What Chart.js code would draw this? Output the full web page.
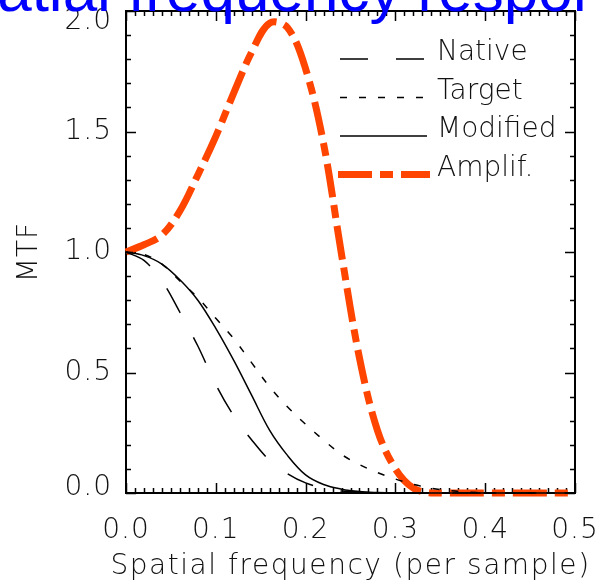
<!DOCTYPE html>
<html>
<head>
<meta charset="utf-8">
<title>Spatial frequency response</title>
<script src="https://cdn.jsdelivr.net/npm/chart.js@4.4.1/dist/chart.umd.min.js"></script>
<style>
  html, body { margin: 0; padding: 0; background: #fff; }
  canvas { display: block; }
</style>
</head>
<body>
<canvas id="mtfChart" width="597" height="585"></canvas>
<script>
const freq = [0.00, 0.02, 0.04, 0.06, 0.08, 0.10, 0.12, 0.14, 0.16, 0.18, 0.20, 0.22, 0.24,
              0.26, 0.28, 0.30, 0.32, 0.34, 0.36, 0.38, 0.40, 0.42, 0.44, 0.46, 0.48, 0.50];
const nativeMtf   = [1.00, 0.965, 0.88, 0.75, 0.61, 0.45, 0.32, 0.22, 0.135, 0.08, 0.042, 0.02, 0.008,
                     0.003, 0.001, 0, 0, 0, 0, 0, 0, 0, 0, 0, 0, 0];
const targetMtf   = [1.00, 0.99, 0.95, 0.88, 0.81, 0.725, 0.64, 0.54, 0.44, 0.357, 0.285, 0.22, 0.16,
                     0.118, 0.085, 0.058, 0.036, 0.02, 0.01, 0.004, 0.001, 0, 0, 0, 0, 0];
const modifiedMtf = [1.00, 0.985, 0.95, 0.885, 0.80, 0.683, 0.55, 0.405, 0.26, 0.155, 0.075, 0.035, 0.016,
                     0.006, 0.002, 0, 0, 0, 0, 0, 0, 0, 0, 0, 0, 0];
const amplif      = [1.00, 1.03, 1.07, 1.17, 1.32, 1.48, 1.66, 1.83, 1.95, 1.93, 1.76, 1.45, 0.99,
                     0.56, 0.26, 0.10, 0.02, 0, 0, 0, 0, 0, 0, 0, 0, 0];

const seriesNames = ['Native', 'Target', 'Modified', 'Amplif.'];
const xTicks = [0.0, 0.1, 0.2, 0.3, 0.4, 0.5];
const yTicks = [0.0, 0.5, 1.0, 1.5, 2.0];
const titleText = 'Spatial frequency response';
const xTitle = 'Spatial frequency (per sample)';
const yTitle = 'MTF';

const textColor = '#111';
const hershey = { family: '"DejaVu Sans", sans-serif', size: 28, weight: 200 };
const hersheyCss = '200 28px "DejaVu Sans", sans-serif';

function pairs(vals) {
    return freq.map((f, i) => ({ x: f, y: vals[i] }));
}

// idl pushes the end labels of the y axis inside the box a little:
// done with an empty second line and a squeezed line height
function yLabel(v) {
    const s = v.toFixed(1);
    if (v === 2) return ['', s];
    if (v === 0) return [s, ''];
    return s;
}
function yTickFont(c) {
    const v = c.tick ? c.tick.value : null;
    if (v === 2) return { ...hershey, lineHeight: 0.8 };
    if (v === 0) return { ...hershey, lineHeight: 0.36 };
    return hershey;
}

// hershey font is a bit wider than dejavu
const spacing = {
    id: 'spacing',
    beforeDraw(chart) { chart.ctx.letterSpacing = '1px'; },
    afterDraw(chart) { chart.ctx.letterSpacing = '0px'; }
};

// box round the plot with inward ticks on all four sides (idl style)
const frameAndTicks = {
    id: 'frameAndTicks',
    beforeDatasetsDraw(chart) {
        const { ctx, chartArea: a } = chart;
        const xs = chart.scales.x, ys = chart.scales.y;
        ctx.save();
        ctx.strokeStyle = '#000';
        ctx.lineWidth = 1.5;
        ctx.beginPath();
        for (let i = 0; i <= 50; i++) {
            const px = Math.round(xs.getPixelForValue(i / 100)) + 0.5;
            const len = i % 10 === 0 ? 10 : 5;
            ctx.moveTo(px, a.bottom); ctx.lineTo(px, a.bottom - len);
            ctx.moveTo(px, a.top);    ctx.lineTo(px, a.top + len);
        }
        for (let i = 0; i <= 20; i++) {
            const py = Math.round(ys.getPixelForValue(i / 10)) + 0.5;
            const len = i % 5 === 0 ? 10 : 5;
            ctx.moveTo(a.left, py);  ctx.lineTo(a.left + len, py);
            ctx.moveTo(a.right, py); ctx.lineTo(a.right - len, py);
        }
        ctx.stroke();
        ctx.lineWidth = 2;
        ctx.strokeRect(a.left, a.top, a.right - a.left, a.bottom - a.top);

        // x axis title, wider than the plot so drawn here without maxWidth
        ctx.letterSpacing = '1.55px';
        ctx.font = hersheyCss;
        ctx.fillStyle = textColor;
        ctx.textAlign = 'center';
        ctx.textBaseline = 'middle';
        ctx.fillText(xTitle, (a.left + a.right) / 2, 567);
        ctx.restore();
    }
};

// legend: line sample then label, stacked in upper right
const lineLegend = {
    id: 'lineLegend',
    afterDatasetsDraw(chart) {
        const ctx = chart.ctx;
        ctx.save();
        ctx.letterSpacing = '0px';
        chart.data.datasets.forEach((ds, i) => {
            const y = 59 + i * 38.5;
            ctx.beginPath();
            ctx.setLineDash(ds.borderDash || []);
            ctx.lineWidth = ds.borderWidth;
            ctx.strokeStyle = ds.borderColor;
            ctx.moveTo(i === 3 ? 338 : 340, y);
            ctx.lineTo(i === 3 ? 430 : 427, y);
            ctx.stroke();
            ctx.setLineDash([]);
            ctx.fillStyle = textColor;
            ctx.font = hersheyCss;
            ctx.textAlign = 'left';
            ctx.textBaseline = 'alphabetic';
            ctx.fillText(ds.label, 437, y + 1);
        });
        ctx.restore();
    }
};

// big blue title, mostly cut off by the top of the window
const pageTitle = {
    id: 'pageTitle',
    afterDraw(chart) {
        const ctx = chart.ctx;
        ctx.save();
        ctx.letterSpacing = '0px';
        ctx.font = '62px "Liberation Sans", Arial, sans-serif';
        ctx.fillStyle = '#0000ff';
        ctx.textAlign = 'center';
        ctx.textBaseline = 'alphabetic';
        ctx.fillText(titleText, 297, 11);
        ctx.restore();
    }
};

const ctx = document.getElementById('mtfChart');

new Chart(ctx, {
    type: 'line',
    data: {
        datasets: [
            { label: seriesNames[0], data: pairs(nativeMtf),   borderColor: '#000', borderWidth: 1.5, borderDash: [28, 28] },
            { label: seriesNames[1], data: pairs(targetMtf),   borderColor: '#000', borderWidth: 1.5, borderDash: [7, 12] },
            { label: seriesNames[2], data: pairs(modifiedMtf), borderColor: '#000', borderWidth: 1.5 },
            { label: seriesNames[3], data: pairs(amplif),      borderColor: '#ff4500', borderWidth: 7, borderDash: [34, 8, 13, 8] }
        ]
    },
    options: {
        responsive: false,
        devicePixelRatio: 1,
        animation: false,
        layout: { padding: { top: 11, right: 22, bottom: 0, left: 0 } },
        elements: {
            point: { radius: 0 },
            line: { tension: 0.35, fill: false, borderCapStyle: 'butt' }
        },
        datasets: { line: { clip: false } },
        plugins: {
            legend: { display: false },
            tooltip: { enabled: false }
        },
        scales: {
            x: {
                type: 'linear',
                min: 0,
                max: 0.5,
                afterBuildTicks: scale => { scale.ticks = xTicks.map(v => ({ value: v })); },
                ticks: {
                    callback: v => v.toFixed(1),
                    font: hershey,
                    color: textColor,
                    padding: 21,
                    maxRotation: 0,
                    autoSkip: false
                },
                grid: { display: false, drawTicks: false },
                border: { display: false },
                afterFit: s => { s.height = 92; s.paddingLeft = 0; s.paddingRight = 0; }
            },
            y: {
                type: 'linear',
                min: 0,
                max: 2,
                afterBuildTicks: scale => { scale.ticks = yTicks.map(v => ({ value: v })); },
                ticks: {
                    callback: v => yLabel(v),
                    font: yTickFont,
                    color: textColor,
                    padding: 14
                },
                grid: { display: false, drawTicks: false },
                border: { display: false },
                title: {
                    display: true,
                    text: yTitle,
                    font: hershey,
                    color: textColor,
                    padding: { top: 13, bottom: 0 }
                },
                afterFit: s => { s.width = 126; s.paddingTop = 0; s.paddingBottom = 0; }
            }
        }
    },
    plugins: [spacing, frameAndTicks, lineLegend, pageTitle]
});
</script>
</body>
</html>
